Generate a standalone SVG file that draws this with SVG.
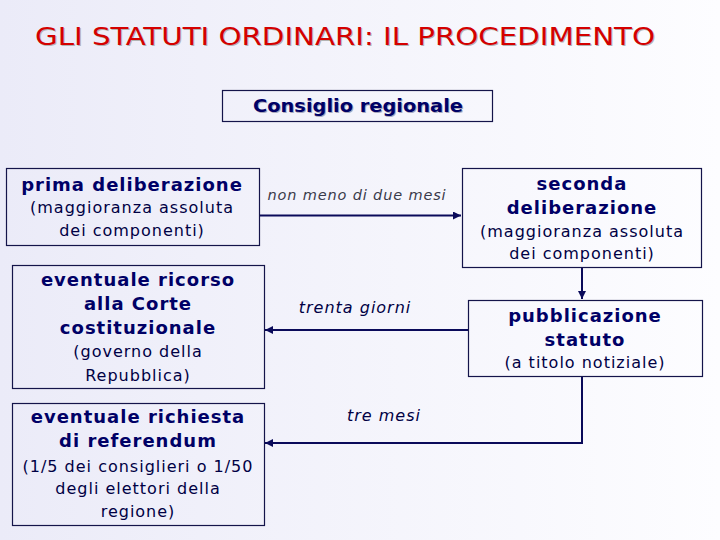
<svg xmlns="http://www.w3.org/2000/svg" width="720" height="540" viewBox="0 0 720 540">
<defs>
<linearGradient id="bg" x1="0" y1="0" x2="1" y2="0">
<stop offset="0" stop-color="#ebebf8"/>
<stop offset="1" stop-color="#fdfdff"/>
</linearGradient>
<marker id="ah" viewBox="0 0 10 10" refX="10" refY="5" markerWidth="4" markerHeight="4" orient="auto" markerUnits="strokeWidth">
<path d="M0,0 L10,5 L0,10 z" fill="#0a0a5a"/>
</marker>
<style>
.box{fill:none;stroke:#14144a;stroke-width:1.2}
.b{font-family:"DejaVu Sans",Verdana,sans-serif;font-weight:bold;font-size:18px;letter-spacing:1px;fill:#000066;text-anchor:middle}
.r{font-family:"DejaVu Sans",Verdana,sans-serif;font-size:16px;letter-spacing:1px;fill:#000044;text-anchor:middle}
.lab{font-family:"DejaVu Sans",Verdana,sans-serif;font-style:italic;font-size:16px;letter-spacing:1px;fill:#000044;text-anchor:middle}
.lab2{font-family:"DejaVu Sans",sans-serif;font-style:italic;font-size:14.5px;letter-spacing:0.85px;fill:#3a3a4a;text-anchor:middle;font-weight:300}
.c{fill:none;stroke:#0a0a5a;stroke-width:2;marker-end:url(#ah)}
</style>
</defs>
<rect width="720" height="540" fill="url(#bg)"/>
<g id="title" font-family="'DejaVu Sans Condensed','Liberation Sans Narrow','Liberation Sans',sans-serif" font-size="25">
<text x="346" y="46" text-anchor="middle" fill="#b4b4b4" textLength="620" lengthAdjust="spacingAndGlyphs">GLI STATUTI ORDINARI: IL PROCEDIMENTO</text>
<text x="345" y="45" text-anchor="middle" fill="#d40000" textLength="620" lengthAdjust="spacingAndGlyphs">GLI STATUTI ORDINARI: IL PROCEDIMENTO</text>
</g>
<g id="consiglio">
<rect class="box" x="222.5" y="90.5" width="270" height="31"/>
<text class="b" x="359" y="113" style="fill:#a8a8bc;letter-spacing:0" textLength="210" lengthAdjust="spacingAndGlyphs">Consiglio regionale</text>
<text class="b" x="358" y="112" style="letter-spacing:0" textLength="210" lengthAdjust="spacingAndGlyphs">Consiglio regionale</text>
</g>
<g id="prima">
<rect class="box" x="6.5" y="168.5" width="253" height="77"/>
<text class="b" x="132" y="191">prima deliberazione</text>
<text class="r" x="132" y="213">(maggioranza assoluta</text>
<text class="r" x="132" y="236">dei componenti)</text>
</g>
<g id="seconda">
<rect class="box" x="462.5" y="168.5" width="239" height="99"/>
<text class="b" x="582" y="190">seconda</text>
<text class="b" x="582" y="214">deliberazione</text>
<text class="r" x="582" y="237">(maggioranza assoluta</text>
<text class="r" x="582" y="259">dei componenti)</text>
</g>
<g id="ricorso">
<rect class="box" x="12.5" y="265.5" width="252" height="123"/>
<text class="b" x="138" y="286">eventuale ricorso</text>
<text class="b" x="138" y="310">alla Corte</text>
<text class="b" x="138" y="334">costituzionale</text>
<text class="r" x="138" y="357">(governo della</text>
<text class="r" x="138" y="381">Repubblica)</text>
</g>
<g id="pubblicazione">
<rect class="box" x="468.5" y="300.5" width="234" height="76"/>
<text class="b" x="585" y="322">pubblicazione</text>
<text class="b" x="585" y="346">statuto</text>
<text class="r" x="585" y="368">(a titolo notiziale)</text>
</g>
<g id="referendum">
<rect class="box" x="12.5" y="403.5" width="252" height="122"/>
<text class="b" x="138" y="423">eventuale richiesta</text>
<text class="b" x="138" y="447">di referendum</text>
<text class="r" x="138" y="472">(1/5 dei consiglieri o 1/50</text>
<text class="r" x="138" y="494">degli elettori della</text>
<text class="r" x="138" y="517">regione)</text>
</g>
<g id="connectors">
<path class="c" d="M260,215.5 H461"/>
<path class="c" d="M582,268 V299"/>
<path class="c" d="M468,330 H265"/>
<path class="c" d="M582,377 V443 H265"/>
<text class="lab2" x="357" y="200">non meno di due mesi</text>
<text class="lab" x="355" y="313">trenta giorni</text>
<text class="lab" x="384" y="421">tre mesi</text>
</g>
</svg>
